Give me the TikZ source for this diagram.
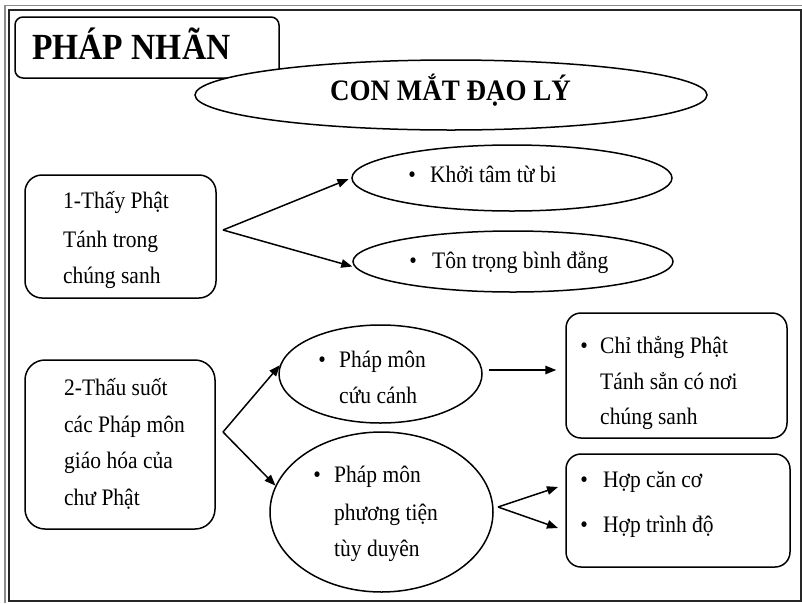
\documentclass[tikz,border=0pt]{standalone}
\usepackage{fontspec}
\setmainfont{Liberation Serif}
\usetikzlibrary{shapes.geometric,arrows.meta}

% text set slightly taller than wide, as the printed type is
\newcommand\tall[1]{\scalebox{1}[1.1]{#1}}
% bullet followed by text that starts #1 pt after the bullet's left edge
\newcommand\bulletline[2]{\tall{\makebox[#1pt][l]{•}#2}}

\tikzset{
  frameline/.style={line width=1.4pt, draw=black!85},
  box/.style={draw, line width=1.5pt, inner sep=0pt, fill=white},
  oval/.style={draw, ellipse, line width=1.5pt, inner sep=0pt, fill=white},
  body/.style={anchor=base west, inner sep=0pt, font=\fontsize{21.5pt}{24pt}\selectfont},
  arr/.style={line width=1.5pt, -{Triangle[length=11pt,width=8.5pt]}},
}

\begin{document}
\begin{tikzpicture}[x=1pt,y=-1pt]
  \useasboundingbox (0,0) rectangle (802,603);
  \fill[white] (0,0) rectangle (802,603);

  % page frame
  \draw[line width=1.8pt, black!45] (5,603) -- (5,5.5) -- (802,5.5);
  \draw[frameline] (9,10) rectangle (801,601);

  % title box and heading oval
  \node[box, rounded corners=8pt, minimum width=264pt, minimum height=61pt] (titlebox) at (147,47.5) {};
  \node[anchor=base west, inner sep=0pt, font=\bfseries\fontsize{33.5pt}{36pt}\selectfont] (title) at (32,59) {\tall{PHÁP NHÃN}};
  \node[oval, minimum width=512pt, minimum height=70pt] (head) at (451,95) {};
  \node[anchor=base, inner sep=0pt, font=\bfseries\fontsize{27pt}{30pt}\selectfont] (headtext) at (450.5,100) {\tall{CON MẮT ĐẠO LÝ}};

  % section 1
  \node[box, rounded corners=17pt, minimum width=191pt, minimum height=123pt] (b1) at (120.5,236.5) {};
  \node[body] (b1l1) at (63,208) {\tall{1-Thấy Phật}};
  \node[body] (b1l2) at (63,247) {\tall{Tánh trong}};
  \node[body] (b1l3) at (63,283) {\tall{chúng sanh}};

  \node[oval, minimum width=320pt, minimum height=66pt] (k) at (512,178) {};
  \node[body] (kt) at (408.2,182) {\bulletline{21.8}{Khởi tâm từ bi}};
  \node[oval, minimum width=320pt, minimum height=61pt] (tt) at (513,261.5) {};
  \node[body] (ttt) at (409.2,268) {\bulletline{22.8}{Tôn trọng bình đẳng}};

  \coordinate (a1) at (223,230);
  \draw[arr, shorten >=3pt] (a1) -- (k.west);
  \draw[arr] (a1) -- ([yshift=-5pt]tt.west);

  % section 2
  \node[box, rounded corners=20pt, minimum width=190pt, minimum height=169pt] (b2) at (120,444.5) {};
  \node[body] (b2l1) at (64,395) {\tall{2-Thấu suốt}};
  \node[body] (b2l2) at (64,432) {\tall{các Pháp môn}};
  \node[body] (b2l3) at (64,468) {\tall{giáo hóa của}};
  \node[body] (b2l4) at (64,505) {\tall{chư Phật}};

  \node[oval, minimum width=203pt, minimum height=98pt] (c) at (380.5,374) {};
  \node[body] (cl1) at (318.2,367) {\bulletline{20.8}{Pháp môn}};
  \node[body] (cl2) at (339,403) {\tall{cứu cánh}};

  \node[oval, minimum width=223pt, minimum height=160pt] (p) at (381.5,512) {};
  \node[body] (pl1) at (313.2,482) {\bulletline{20.8}{Pháp môn}};
  \node[body] (pl2) at (334,520) {\tall{phương tiện}};
  \node[body] (pl3) at (334,556) {\tall{tùy duyên}};

  \coordinate (a2) at (223,432);
  \draw[arr] (a2) -- (c.175);
  \draw[arr] (a2) -- (p.166);

  % right-hand boxes
  \node[box, rounded corners=15pt, minimum width=221pt, minimum height=125pt] (b3) at (676.5,375.5) {};
  \node[body] (b3l1) at (580.2,353) {\bulletline{19.8}{Chỉ thẳng Phật}};
  \node[body] (b3l2) at (600,389) {\tall{Tánh sẳn có nơi}};
  \node[body] (b3l3) at (600,424) {\tall{chúng sanh}};

  \node[box, rounded corners=15pt, minimum width=224pt, minimum height=113pt] (b4) at (678,510.5) {};
  \node[body] (b4l1) at (580.2,487) {\bulletline{22.8}{Hợp căn cơ}};
  \node[body] (b4l2) at (580.2,532) {\bulletline{22.8}{Hợp trình độ}};

  \coordinate (h1) at ([yshift=4pt]c.east);
  \draw[arr, shorten <=6pt, shorten >=9pt] (h1) -- (h1 -| b3.west);

  \coordinate (a3) at (498,507);
  \coordinate (q1) at (558,487);
  \coordinate (q2) at (558,528);
  \draw[arr] (a3) -- (q1);
  \draw[arr] (a3) -- (q2);
\end{tikzpicture}
\end{document}
